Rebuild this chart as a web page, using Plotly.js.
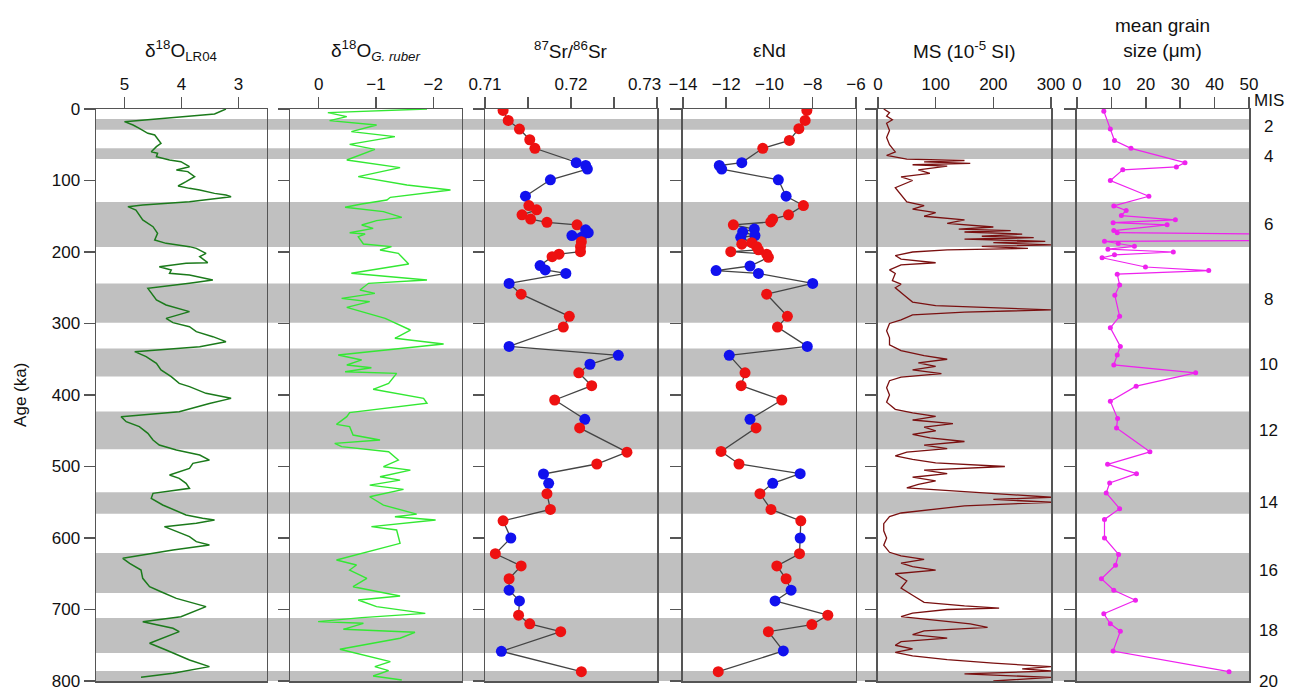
<!DOCTYPE html>
<html>
<head>
<meta charset="utf-8">
<script src="https://cdn.plot.ly/plotly-3.0.1.min.js"></script>
<style>html,body{margin:0;padding:0;background:#fff;}#chart{width:1289px;height:691px;}</style>
</head>
<body>
<div id="chart"></div>
<script>
// ---------- DATA ----------
// LR04 benthic d18O stack (age ka, permil)
const lr04Age = [0,7,17.7,22.4,27,34,36.4,42.4,48,52.7,59.7,62,66.7,71.3,73.7,80.7,85.3,87.6,94.6,101.6,107.7,111,113.3,118,120.3,122.6,127.3,129.6,134.3,136.6,141.3,148.3,155.2,164.6,173.9,183.2,187.9,192.5,194.9,201.9,206.5,214.9,215.9,220.5,225.2,229.8,232.2,239.2,243.8,250.8,257.8,267.1,274.1,283.4,292.8,298.8,304.4,311.4,318.4,325.4,332.4,339.4,346.4,355.7,365,374.4,383.7,388.3,397.7,404.7,412,423.3,430.3,437.3,444.3,453.6,463,470,477,484,491,495.6,502.6,512,516.6,523.6,530.5,537.5,544.5,553.8,567.8,572.5,574.8,579.5,584.1,593.5,598.1,605.1,609.8,616.8,628.4,635.4,644.8,656.4,668.1,675.1,684.4,696,710,717,726.3,731,747.3,756.6,770.6,779.9,789.3,794.9];
const lr04Val = [3.22,3.42,5.00,4.85,4.74,4.59,4.47,4.42,4.36,4.44,4.53,4.42,4.44,4.21,4.01,3.86,4.09,3.89,3.77,3.92,4.06,3.86,3.68,3.42,3.22,3.13,3.68,3.86,4.68,4.94,4.80,4.74,4.68,4.50,4.42,4.47,4.27,3.86,3.74,3.57,3.68,3.54,3.92,4.39,4.18,4.21,3.86,3.45,3.86,4.59,4.53,4.44,4.27,3.86,4.27,4.15,3.86,3.74,3.45,3.22,3.68,4.82,4.62,4.44,4.36,4.18,4.04,3.86,3.57,3.13,3.51,4.04,5.06,4.97,4.74,4.59,4.50,4.39,4.09,3.68,3.51,3.80,3.86,4.21,4.04,3.92,3.86,4.50,4.53,4.33,3.92,3.63,3.42,3.74,4.30,3.98,3.86,3.74,3.51,4.15,5.03,4.91,4.71,4.68,4.56,4.36,4.09,3.57,4.01,4.68,4.15,4.04,4.56,4.27,3.86,3.51,4.15,4.71];

// G. ruber d18O
const ruberAge = [0,5.1,10.7,16.3,22.4,31.7,38.7,49.4,56.4,71.3,82,94.6,106.3,113.3,123.5,127.3,132.9,137.5,143.6,151.5,156.2,162.2,166.9,173,174.8,178.6,188.8,192.5,197.2,201.9,216.8,229.8,239.2,243.8,253.1,257.8,264.8,269.5,277.4,292.8,309.1,320.7,328.7,344,351,358,361.8,367.4,369.7,383.7,392,404.7,411.6,424.7,430.3,441,444.3,456,463,467.6,472.3,479.3,491,500.3,505,514.3,519,526,532,542.3,554,566.6,570.3,574.8,584.1,588.8,607.5,630.8,637.8,644.8,656.4,668.1,681.1,686.7,696,705.4,711.4,717,719.3,727.7,731.9,740.2,755.6,772.9,779.9,785.5,793,798.6];
const ruberVal = [-1.89,-0.16,-0.49,-0.19,-1.01,-0.57,-1.33,-0.54,-0.98,-0.49,-1.42,-0.69,-1.54,-2.30,-1.25,-1.19,-0.75,-0.46,-1.13,-1.45,-1.01,-0.75,-0.95,-0.54,-0.81,-0.69,-0.78,-1.27,-1.07,-1.39,-1.57,-0.57,-1.89,-0.87,-0.72,-0.98,-0.40,-0.89,-0.49,-1.16,-1.60,-1.33,-2.18,-0.34,-0.75,-0.49,-0.92,-0.46,-1.36,-1.22,-0.95,-1.83,-1.89,-0.54,-0.49,-0.31,-0.54,-0.60,-1.07,-0.28,-0.40,-1.22,-1.39,-1.13,-1.60,-1.07,-1.42,-0.89,-1.48,-0.89,-1.13,-1.71,-1.33,-2.04,-0.92,-1.36,-1.42,-0.31,-0.66,-0.54,-0.84,-0.60,-1.42,-0.69,-1.01,-1.86,-0.75,0.01,-0.78,-0.43,-1.68,-1.42,-0.37,-1.25,-0.98,-1.22,-0.95,-1.45];

// 87Sr/86Sr (type: r = red, b = blue samples)
const srAge = [2,16,28,43,55,75,79,84,99,122,135,141,148,154,158.5,162,169,173,177,179.5,185.5,192.5,199.5,203,206.5,219,225,230,244,259,290,305,332,344.5,357,369,387,407,434,446,480,496.5,510.5,523.5,538,560,576,600,622,639,657,673,688,708,720,731,758.5,787];
const srVal = [0.7121,0.7127,0.7140,0.7152,0.7158,0.7206,0.7217,0.7219,0.7176,0.7147,0.7151,0.7160,0.7143,0.7153,0.7172,0.7207,0.7217,0.7220,0.7201,0.7212,0.7212,0.7211,0.7211,0.7186,0.7178,0.7164,0.7170,0.7194,0.7128,0.7142,0.7198,0.7191,0.7128,0.7255,0.7222,0.7209,0.7224,0.7181,0.7216,0.7210,0.7265,0.7230,0.7168,0.7174,0.7172,0.7176,0.7121,0.7130,0.7112,0.7142,0.7128,0.7128,0.7140,0.7139,0.7152,0.7188,0.7119,0.7212];
const srType = ['r','r','r','r','r','b','b','b','b','b','r','r','r','r','r','r','b','b','b','b','r','r','r','r','r','b','b','b','b','r','r','r','b','b','b','r','r','r','b','r','r','r','b','b','r','r','r','b','r','r','r','b','b','r','r','r','b','r'];

// eNd
const ndAge = [2,16,27.5,44,55,75,79,84,99,122,135,148,154,158,162,168,172,177,179.5,187,189,192.5,197,199.5,203,207.5,219.6,226,230,244,259,290,305,332,344.5,369,387,407,434,446,479,496.5,510,523.5,538,560,576,600,622,639,657,673,688,708,721,731,758,787];
const ndVal = [-8.27,-8.35,-8.64,-9.08,-10.31,-11.28,-12.32,-12.21,-9.59,-9.23,-8.43,-9.12,-9.85,-9.94,-11.67,-10.7,-11.24,-10.67,-11.33,-10.82,-11.28,-10.59,-10.51,-11.79,-10.13,-10.05,-10.9,-12.47,-10.51,-8.0,-10.13,-9.17,-9.63,-8.25,-11.86,-11.13,-11.31,-9.43,-10.9,-10.62,-12.24,-11.41,-8.58,-9.85,-10.44,-9.93,-8.55,-8.58,-8.61,-9.66,-9.23,-9.0,-9.74,-7.3,-8.04,-10.05,-9.36,-12.37];
const ndType = ['r','r','r','r','r','b','b','b','b','b','r','r','r','r','r','b','b','b','b','r','r','r','r','r','r','r','b','b','b','b','r','r','r','b','b','r','r','r','b','r','r','r','b','b','r','r','r','b','r','r','r','b','b','r','r','r','b','r'];

// Magnetic susceptibility (10^-5 SI)
const msAge = [0,5,10,15,20,30,40,50,60,65,70,72,74,76,78,80,85,90,95,100,110,120,130,135,140,145,150,155,160,165,168,170,172,175,178,180,182,185,187,190,192,195,197,200,205,210,215,218,225,230,240,245,250,260,270,275,278,281,284,288,295,300,310,320,330,338,345,350,355,360,365,370,375,380,390,400,410,420,425,430,435,440,445,450,455,460,465,470,475,480,485,490,495,500,505,510,515,520,525,530,535,540,543,546,550,555,560,565,570,580,590,600,610,620,625,630,635,640,645,650,660,670,680,690,695,698,700,705,710,715,720,725,730,735,740,745,750,755,760,765,770,775,780,783,786,790,795,800];
const msVal = [10,20,15,25,15,20,15,20,30,15,50,150,80,160,60,120,70,90,40,60,30,40,50,80,60,100,80,150,120,200,140,230,150,250,180,270,150,290,200,300,180,260,120,60,30,40,100,40,20,30,25,40,30,45,60,100,200,300,150,60,40,20,15,20,20,40,80,120,70,100,60,110,40,20,15,20,15,30,60,100,60,130,80,100,60,90,150,80,120,50,30,60,100,220,80,120,60,100,70,50,150,250,300,200,300,150,100,40,20,10,10,15,10,20,40,80,40,60,100,30,50,40,60,80,150,210,120,60,40,100,160,190,80,60,120,40,30,60,30,60,120,200,300,250,300,150,300,200];

// Mean grain size (um)
const gsAge = [3,28,44,55,75,81,85,100,122,135.5,142,149,155,159,162,170,173,175,184,185,188,192,196,200,204,208,221,226,231,246,260.5,290,306,332,344,358,369,387.6,408.6,433,446,479.5,497,510,523,537,559,574,600,623,638,657,673,687,706,720,730.5,758,787];
const gsVal = [7.8,9.7,10.9,15.7,31.4,28.9,13.3,9.7,20.9,10.7,14.3,12.9,28.6,10.5,26.2,10.7,11.7,60,60,8,12,16.7,9,28,10.9,7.3,19.9,38.3,11.7,12.4,11,12.4,9.7,12.6,11.7,10.7,34.5,17.2,9.7,11.8,11.5,21.2,8.9,17.3,9.5,8.5,12.4,8,8,12.1,11.2,7.1,10.7,17,7.8,9.7,12.6,10.5,44.2];

// Glacial (even MIS) bands, ka
const bandStart = [14,55,130,244,335,423,536,621,712,786];
const bandEnd   = [29,70,193,299,374,476,566,677,761,800];
const misLabel = ['2','4','6','8','10','12','14','16','18','20'];
const misAge   = [25,67,162,267,358,449,550,645,729,800];

const ageTicks = [0,100,200,300,400,500,600,700,800];

// ---------- PLOT ----------
const colorMap = {r:'#ee1111', b:'#1111ee'};
const domains = [[0,0.1483],[0.1683,0.3174],[0.3374,0.4866],[0.5091,0.6591],[0.6782,0.8283],[0.8508,1.0]];
const axColor = '#555';
const TF = 17;   // tick font size
const HF = 19;   // header (title) font size

const traces = [
  {x:lr04Val, y:lr04Age, xaxis:'x', yaxis:'y', mode:'lines', line:{color:'#1b7a1b', width:1.5}},
  {x:ruberVal, y:ruberAge, xaxis:'x2', yaxis:'y2', mode:'lines', line:{color:'#33e833', width:1.4}},
  {x:srVal, y:srAge, xaxis:'x3', yaxis:'y3', mode:'lines+markers', line:{color:'#444', width:1.3},
   marker:{size:11, color:srType.map(t=>colorMap[t])}},
  {x:ndVal, y:ndAge, xaxis:'x4', yaxis:'y4', mode:'lines+markers', line:{color:'#444', width:1.3},
   marker:{size:11, color:ndType.map(t=>colorMap[t])}},
  {x:msVal, y:msAge, xaxis:'x5', yaxis:'y5', mode:'lines', line:{color:'#7a1010', width:1.3}},
  {x:gsVal, y:gsAge, xaxis:'x6', yaxis:'y6', mode:'lines+markers', line:{color:'#ee22ee', width:1.2},
   marker:{size:5, color:'#ee22ee'}, cliponaxis:true}
];

function xax(i, extra){
  return Object.assign({
    domain:domains[i], anchor: i===0?'y':'y'+(i+1), side:'top',
    showline:true, mirror:true, linecolor:axColor, linewidth:1.5,
    ticks:'outside', ticklen:11, tickwidth:1.5, tickcolor:axColor,
    showgrid:false, zeroline:false, tickfont:{size:TF, color:'#111'}
  }, extra);
}
function yax(i){
  const a = {
    domain:[0,1], anchor: i===0?'x':'x'+(i+1), range:[800,0], autorange:false,
    tickvals:ageTicks, showline:true, mirror:true, linecolor:axColor, linewidth:1.5,
    ticks:'outside', ticklen:11, tickwidth:1.5, tickcolor:axColor,
    showgrid:false, zeroline:false, tickfont:{size:TF, color:'#111'},
    showticklabels: i===0
  };
  if(i>0) a.matches='y';
  return a;
}

const layout = {
  width:1289, height:691,
  margin:{l:96, r:40, t:109, b:10},
  paper_bgcolor:'#fff', plot_bgcolor:'rgba(0,0,0,0)',
  font:{family:'Liberation Sans, Arial, sans-serif', size:TF, color:'#111'},
  showlegend:false,
  xaxis: xax(0,{range:[5.5,2.5], tickvals:[5,4,3]}),
  xaxis2: xax(1,{range:[0.5,-2.5], tickvals:[0,-1,-2]}),
  xaxis3: xax(2,{range:[0.71,0.73], tickvals:[0.71,0.72,0.73], ticktext:['0.71','0.72',' '],
                 minor:{tickvals:[0.715,0.725], ticks:'outside', ticklen:11, tickwidth:1.5, tickcolor:axColor, showgrid:false}}),
  xaxis4: xax(3,{range:[-14,-6], tickvals:[-14,-12,-10,-8,-6]}),
  xaxis5: xax(4,{range:[0,300], tickvals:[0,100,200,300]}),
  xaxis6: xax(5,{range:[0,50], tickvals:[0,10,20,30,40,50]}),
  yaxis: yax(0), yaxis2: yax(1), yaxis3: yax(2), yaxis4: yax(3), yaxis5: yax(4), yaxis6: yax(5),
  shapes: bandStart.map((s,i)=>({type:'rect', xref:'paper', yref:'y', x0:0, x1:1, y0:s, y1:bandEnd[i],
    fillcolor:'#c0c0c0', line:{width:0}, layer:'below'})),
  annotations: []
};

const titles = [
  'δ<sup>18</sup>O<sub>LR04</sub>',
  'δ<sup>18</sup>O<sub><i>G. ruber</i></sub>',
  '<sup>87</sup>Sr/<sup>86</sup>Sr',
  'εNd',
  'MS (10<sup>-5</sup> SI)',
  'mean grain<br>size (μm)'
];
titles.forEach((t,i)=>{
  layout.annotations.push({text:t, xref:'paper', yref:'paper', x:(domains[i][0]+domains[i][1])/2,
    y: i===5?1.124:1.103, xanchor:'center', yanchor:'middle', showarrow:false, font:{size:HF, color:'#111'}});
});
// last Sr tick label, nudged left so it does not collide with the eNd axis label
layout.annotations.push({text:'0.73', xref:'x3', yref:'paper', x:0.73, y:1.043, xanchor:'right', yanchor:'middle',
  xshift:6, showarrow:false, font:{size:TF, color:'#111'}});
layout.annotations.push({text:'Age (ka)', xref:'paper', yref:'paper', x:-0.066, y:0.5, textangle:-90,
  showarrow:false, xanchor:'center', yanchor:'middle', font:{size:17, color:'#111'}});
layout.annotations.push({text:'MIS', xref:'paper', yref:'paper', x:1.003, y:1.0157, xanchor:'left', yanchor:'middle',
  showarrow:false, font:{size:17, color:'#111'}});
misLabel.forEach((m,i)=>{
  layout.annotations.push({text:m, xref:'paper', yref:'y', x:1.0165, y:misAge[i], xanchor:'center', yanchor:'middle',
    showarrow:false, font:{size:17, color:'#111'}});
});

Plotly.newPlot('chart', traces, layout, {displayModeBar:false, staticPlot:true});
</script>
</body>
</html>
